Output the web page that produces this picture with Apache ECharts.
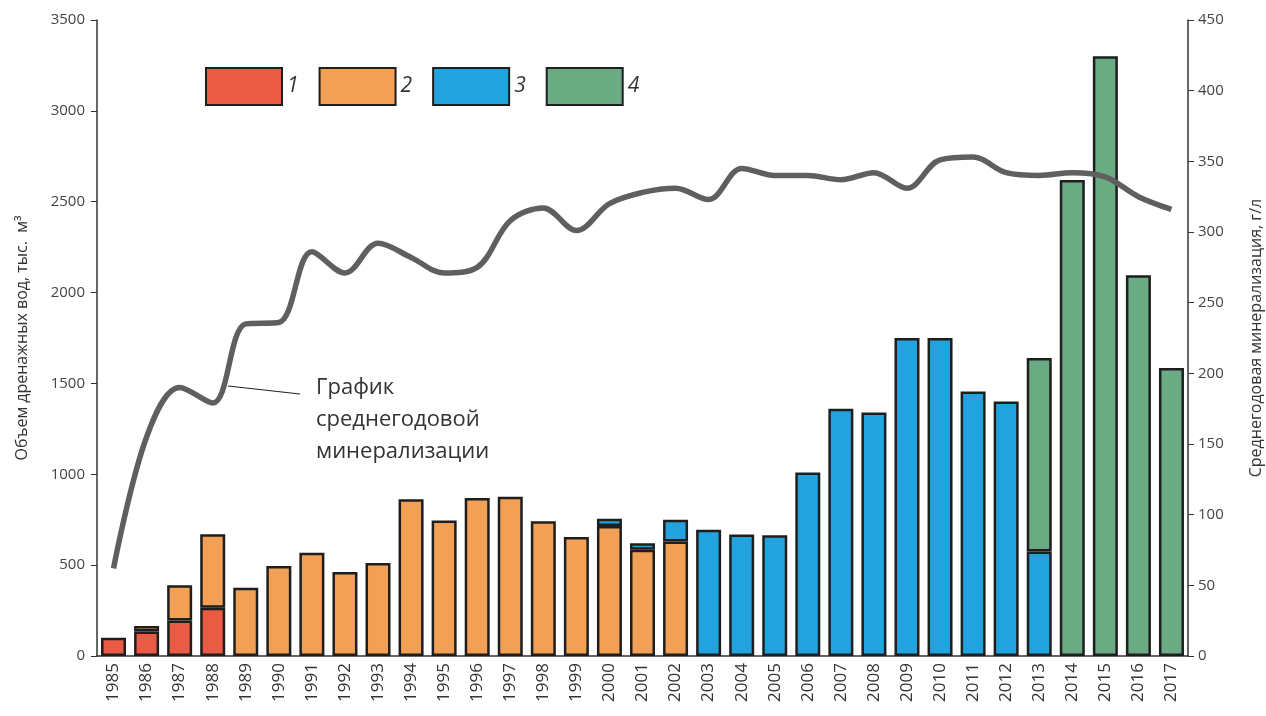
<!DOCTYPE html>
<html><head><meta charset="utf-8">
<script src="https://cdn.jsdelivr.net/npm/echarts@6/dist/echarts.min.js"></script>
<style>html,body{margin:0;padding:0;background:#fff}#c{width:1266px;height:716px}</style>
</head><body><div id="c"></div>
<script>
const years = ['1985','1986','1987','1988','1989','1990','1991','1992','1993','1994','1995','1996','1997','1998','1999','2000','2001','2002','2003','2004','2005','2006','2007','2008','2009','2010','2011','2012','2013','2014','2015','2016','2017'];
const s1 = [100,135,195,265,null,null,null,null,null,null,null,null,null,null,null,null,null,null,null,null,null,null,null,null,null,null,null,null,null,null,null,null,null];
const s2 = [null,30,195,405,375,495,568,462,512,862,745,869,877,742,655,715,585,630,null,null,null,null,null,null,null,null,null,null,null,null,null,null,null];
const s3 = [null,null,null,null,null,null,null,null,null,null,null,null,null,null,null,40,35,120,695,668,665,1010,1360,1340,1750,1750,1455,1400,575,null,null,null,null];
const s4 = [null,null,null,null,null,null,null,null,null,null,null,null,null,null,null,null,null,null,null,null,null,null,null,null,null,null,null,null,1065,2620,3300,2095,1585];
const mineral = [62,155,190,179,235,236,286,271,292,282,271,275,308,317,301,320,328,331,323,345,340,340,337,342,331,351,353,342,340,342,339,325,316];
const leftTicks = [0,3500,500];
const rightTicks = [0,450,50];

const chart = echarts.init(document.getElementById('c'));
const font = "'Open Sans', 'Noto Sans', sans-serif";
const colors = ['#ea5a45','#f2a055','#22a3dd','#6aab84'];
const barBase = (name, data, color) => ({
  name, type:'bar', stack:'v', data, barWidth:25,
  itemStyle:{color, borderColor:'#1e1e1e', borderWidth:2.5},
  emphasis:{disabled:true}
});
chart.setOption({
  animation:false,
  textStyle:{fontFamily:font},
  grid:{left:97,right:78,top:20,bottom:60,outerBoundsMode:'none',containLabel:false},
  legend:{
    data:['1','2','3','4'], left:200, top:62, itemWidth:76, itemHeight:37, itemGap:20,
    icon:'rect',
    textStyle:{fontSize:21, fontStyle:'italic', color:'#333', fontFamily:font}
  },
  xAxis:{
    type:'category', data:years,
    axisLine:{lineStyle:{color:'#333',width:1.5}},
    axisTick:{show:false},
    axisLabel:{rotate:90, fontSize:17, color:'#333', margin:7, interval:0}
  },
  yAxis:[
    {type:'value', min:leftTicks[0], max:leftTicks[1], interval:leftTicks[2],
     name:'Объем дренажных вод, тыс.  м³', nameLocation:'middle', nameGap:67,
     nameTextStyle:{fontSize:16, color:'#333'},
     splitLine:{show:false},
     axisLine:{show:true, lineStyle:{color:'#333',width:1.5}},
     axisTick:{show:true, length:6, lineStyle:{color:'#333'}},
     axisLabel:{fontSize:15, color:'#444', margin:12, formatter:v=>String(v)}},
    {type:'value', min:rightTicks[0], max:rightTicks[1], interval:rightTicks[2],
     name:'Среднегодовая минерализация, г/л', nameLocation:'middle', nameGap:60,
     nameTextStyle:{fontSize:16, color:'#333'},
     splitLine:{show:false},
     axisLine:{show:true, lineStyle:{color:'#333',width:1.5}},
     axisTick:{show:true, length:6, lineStyle:{color:'#333'}},
     axisLabel:{fontSize:15, color:'#444', margin:10, formatter:v=>String(v)}}
  ],
  series:[
    barBase('1', s1, colors[0]),
    barBase('2', s2, colors[1]),
    barBase('3', s3, colors[2]),
    barBase('4', s4, colors[3]),
    {name:'line', type:'line', yAxisIndex:1, data:mineral, smooth:0.35, symbol:'none', z:5,
     lineStyle:{color:'#5f5f5f', width:5.5}}
  ],
  graphic:[
    {type:'line', shape:{x1:228,y1:386,x2:300,y2:394}, style:{stroke:'#222', lineWidth:1.2}},
    {type:'text', left:316, top:372, style:{text:'График\nсреднегодовой\nминерализации', font:"22px 'Open Sans', 'Noto Sans', sans-serif", fill:'#333', lineHeight:32}}
  ]
});
</script></body></html>
